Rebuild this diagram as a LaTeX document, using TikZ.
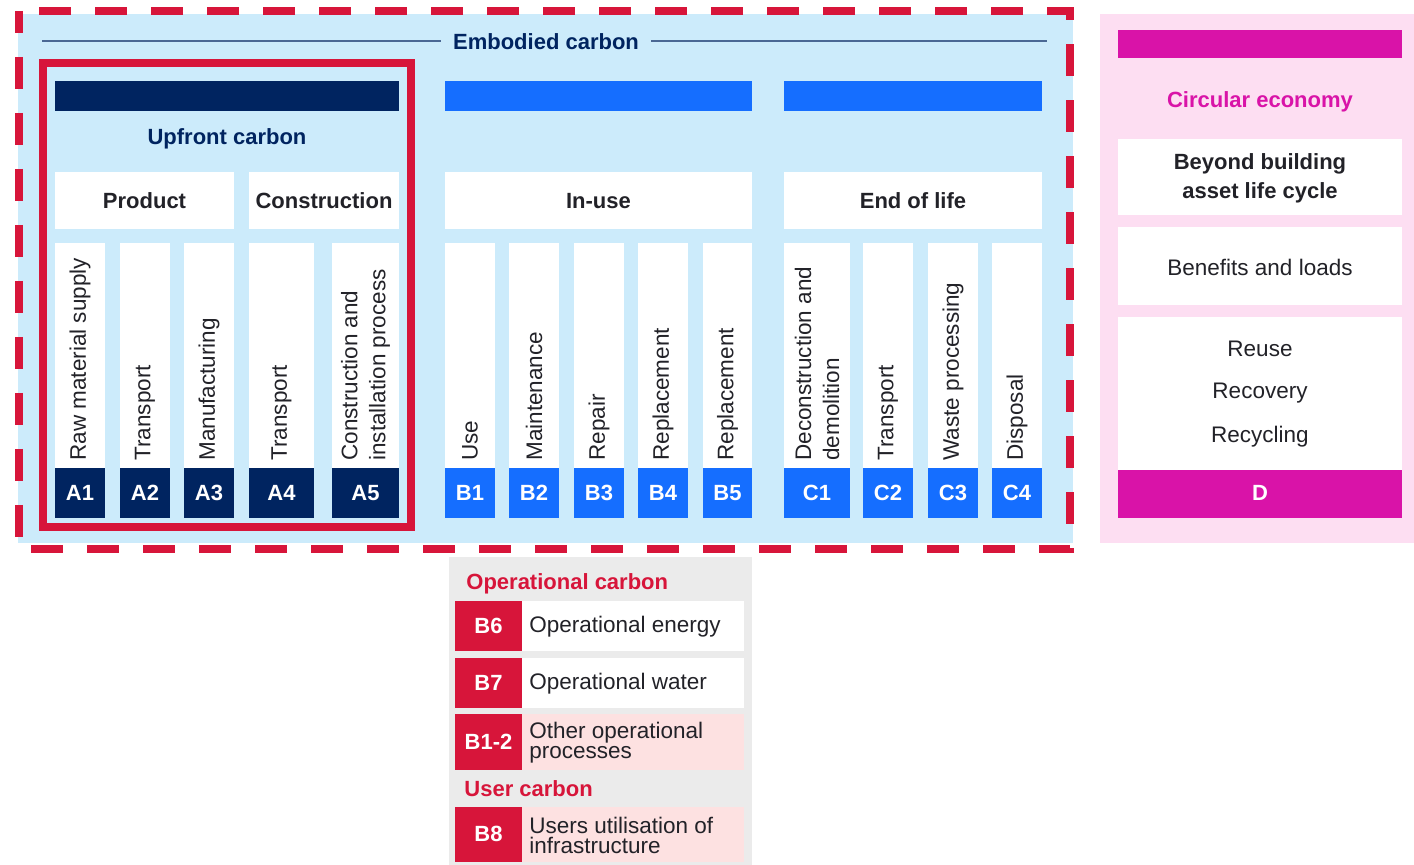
\documentclass[tikz,border=0pt]{standalone}
\usepackage{fontspec}
\setmainfont{Liberation Sans}
\definecolor{skyback}{RGB}{204,235,251}
\definecolor{navyblue}{RGB}{0,36,96}
\definecolor{brightblue}{RGB}{21,110,255}
\definecolor{crimson}{RGB}{215,21,58}
\definecolor{pinkback}{RGB}{253,222,242}
\definecolor{magentabar}{RGB}{217,19,168}
\definecolor{greyback}{RGB}{235,235,235}
\definecolor{rowpink}{RGB}{253,225,225}
\definecolor{inkdark}{RGB}{34,34,40}
\definecolor{rulegrey}{RGB}{74,104,148}
\begin{document}
\begin{tikzpicture}[x=0.5pt, y=-0.5pt,
    txt/.style={font=\fontsize{11.25}{14}\selectfont, text=inkdark, inner sep=0pt},
    headtext/.style={font=\fontsize{11}{14.5}\selectfont\bfseries, text=inkdark, inner sep=0pt},
    codetext/.style={font=\fontsize{11}{13}\selectfont\bfseries, text=white, inner sep=0pt},
    vtext/.style={txt, rotate=90, anchor=west, align=left}]
  \useasboundingbox (0,0) rectangle (1414,865);
  % backgrounds of the three panels
  \fill[skyback]  (18,14)   rectangle (1073,543);
  \fill[pinkback] (1100,14) rectangle (1414,543);
  \fill[greyback] (449,557) rectangle (752,865);
  % embodied carbon rule with its title
  \node[headtext, text=navyblue] (embodied) at (546,42) {Embodied carbon};
  \coordinate (ruleleft)  at (42,41);
  \coordinate (ruleright) at (1047,41);
  \draw[rulegrey, line width=0.75pt] (ruleleft)  -- ([xshift=-6pt]embodied.west |- ruleleft);
  \draw[rulegrey, line width=0.75pt] ([xshift=6pt]embodied.east |- ruleright) -- (ruleright);
  % stage bars
  \fill[navyblue]   (55,81)  rectangle (399,111);
  \fill[brightblue] (445,81) rectangle (752,111);
  \fill[brightblue] (784,81) rectangle (1042,111);
  \node[headtext, text=navyblue] (upfront) at (227,139) {Upfront carbon};
  % stage headers
  \fill[white] (55,172)  rectangle (234,229);
  \fill[white] (249,172) rectangle (399,229);
  \fill[white] (445,172) rectangle (752,229);
  \fill[white] (784,172) rectangle (1042,229);
  \node[headtext] (product)      at (144.5,201) {Product};
  \node[headtext] (construction) at (324,201)   {Construction};
  \node[headtext] (inuse)        at (598.5,201) {In-use};
  \node[headtext] (endoflife)    at (913,201)   {End of life};
  % module columns A1 -- A5
  \fill[white] (55,243)  rectangle (105,468);
  \fill[white] (120,243) rectangle (170,468);
  \fill[white] (184,243) rectangle (234,468);
  \fill[white] (249,243) rectangle (314,468);
  \fill[white] (332,243) rectangle (399,468);
  \fill[navyblue] (55,468)  rectangle (105,518);
  \fill[navyblue] (120,468) rectangle (170,518);
  \fill[navyblue] (184,468) rectangle (234,518);
  \fill[navyblue] (249,468) rectangle (314,518);
  \fill[navyblue] (332,468) rectangle (399,518);
  \node[vtext] (rawsupply)   at (80,461)    {Raw material supply};
  \node[vtext] (transporta)  at (145,461)   {Transport};
  \node[vtext] (manufacture) at (209,461)   {Manufacturing};
  \node[vtext] (transportb)  at (281.5,461) {Transport};
  \node[vtext] (install)     at (365.5,461) {Construction and\\installation process};
  \node[codetext] (a1) at (80,493)    {A1};
  \node[codetext] (a2) at (145,493)   {A2};
  \node[codetext] (a3) at (209,493)   {A3};
  \node[codetext] (a4) at (281.5,493) {A4};
  \node[codetext] (a5) at (365.5,493) {A5};
  % module columns B1 -- B5
  \fill[white] (445,243) rectangle (495,468);
  \fill[white] (509,243) rectangle (559,468);
  \fill[white] (574,243) rectangle (624,468);
  \fill[white] (638,243) rectangle (688,468);
  \fill[white] (703,243) rectangle (752,468);
  \fill[brightblue] (445,468) rectangle (495,518);
  \fill[brightblue] (509,468) rectangle (559,518);
  \fill[brightblue] (574,468) rectangle (624,518);
  \fill[brightblue] (638,468) rectangle (688,518);
  \fill[brightblue] (703,468) rectangle (752,518);
  \node[vtext] (use)          at (470,461)   {Use};
  \node[vtext] (maintenance)  at (534,461)   {Maintenance};
  \node[vtext] (repair)       at (599,461)   {Repair};
  \node[vtext] (replacementa) at (663,461)   {Replacement};
  \node[vtext] (replacementb) at (727.5,461) {Replacement};
  \node[codetext] (b1) at (470,493)   {B1};
  \node[codetext] (b2) at (534,493)   {B2};
  \node[codetext] (b3) at (599,493)   {B3};
  \node[codetext] (b4) at (663,493)   {B4};
  \node[codetext] (b5) at (727.5,493) {B5};
  % module columns C1 -- C4
  \fill[white] (784,243) rectangle (850,468);
  \fill[white] (863,243) rectangle (913,468);
  \fill[white] (928,243) rectangle (978,468);
  \fill[white] (992,243) rectangle (1042,468);
  \fill[brightblue] (784,468) rectangle (850,518);
  \fill[brightblue] (863,468) rectangle (913,518);
  \fill[brightblue] (928,468) rectangle (978,518);
  \fill[brightblue] (992,468) rectangle (1042,518);
  \node[vtext] (demolition) at (817,461)  {Deconstruction and\\demolition};
  \node[vtext] (transportc) at (888,461)  {Transport};
  \node[vtext] (waste)      at (953,461)  {Waste processing};
  \node[vtext] (disposal)   at (1017,461) {Disposal};
  \node[codetext] (c1) at (817,493)  {C1};
  \node[codetext] (c2) at (888,493)  {C2};
  \node[codetext] (c3) at (953,493)  {C3};
  \node[codetext] (c4) at (1017,493) {C4};
  % upfront and embodied frames
  \draw[crimson, line width=4pt] (43,63) rectangle (411,527);
  \draw[crimson, line width=4pt, dash pattern=on 16pt off 12pt, dash phase=5pt] (19,11) rectangle (1070,549);
  % circular economy panel
  \fill[magentabar] (1118,30)  rectangle (1402,58);
  \node[headtext, text=magentabar] (circular) at (1260,102) {Circular economy};
  \fill[white] (1118,139) rectangle (1402,215);
  \fill[white] (1118,227) rectangle (1402,305);
  \fill[white] (1118,317) rectangle (1402,470);
  \fill[magentabar] (1118,470) rectangle (1402,518);
  \node[headtext, align=center] (beyond) at (1260,178) {Beyond building\\asset life cycle};
  \node[txt] (benefits)  at (1260,267) {Benefits and loads};
  \node[txt] (reuse)     at (1260,349) {Reuse};
  \node[txt] (recovery)  at (1260,393) {Recovery};
  \node[txt] (recycling) at (1260,437) {Recycling};
  \node[codetext] (d) at (1260,493) {D};
  % operational and user carbon panel
  \node[headtext, text=crimson, anchor=west] (operational) at (466,584) {Operational carbon};
  \fill[crimson] (455,601) rectangle (522,651);
  \fill[white]   (522,601) rectangle (744,651);
  \fill[crimson] (455,658) rectangle (522,708);
  \fill[white]   (522,658) rectangle (744,708);
  \fill[crimson] (455,714) rectangle (522,770);
  \fill[rowpink] (522,714) rectangle (744,770);
  \node[codetext] (b6)  at (488.5,626) {B6};
  \node[codetext] (b7)  at (488.5,683) {B7};
  \node[codetext] (b12) at (488.5,742) {B1-2};
  \node[txt, anchor=west] (energy)    at (529,627) {Operational energy};
  \node[txt, anchor=west] (water)     at (529,684) {Operational water};
  \node[txt, anchor=west, align=left, font=\fontsize{11.25}{10}\selectfont] (otherproc) at (529,743) {Other operational\\processes};
  \node[headtext, text=crimson, anchor=west] (usercarbon) at (464,789) {User carbon};
  \fill[crimson] (455,807) rectangle (522,862);
  \fill[rowpink] (522,807) rectangle (744,862);
  \node[codetext] (b8) at (488.5,834) {B8};
  \node[txt, anchor=west, align=left, font=\fontsize{11.25}{10}\selectfont] (utilisation) at (529,835) {Users utilisation of\\infrastructure};
\end{tikzpicture}
\end{document}
